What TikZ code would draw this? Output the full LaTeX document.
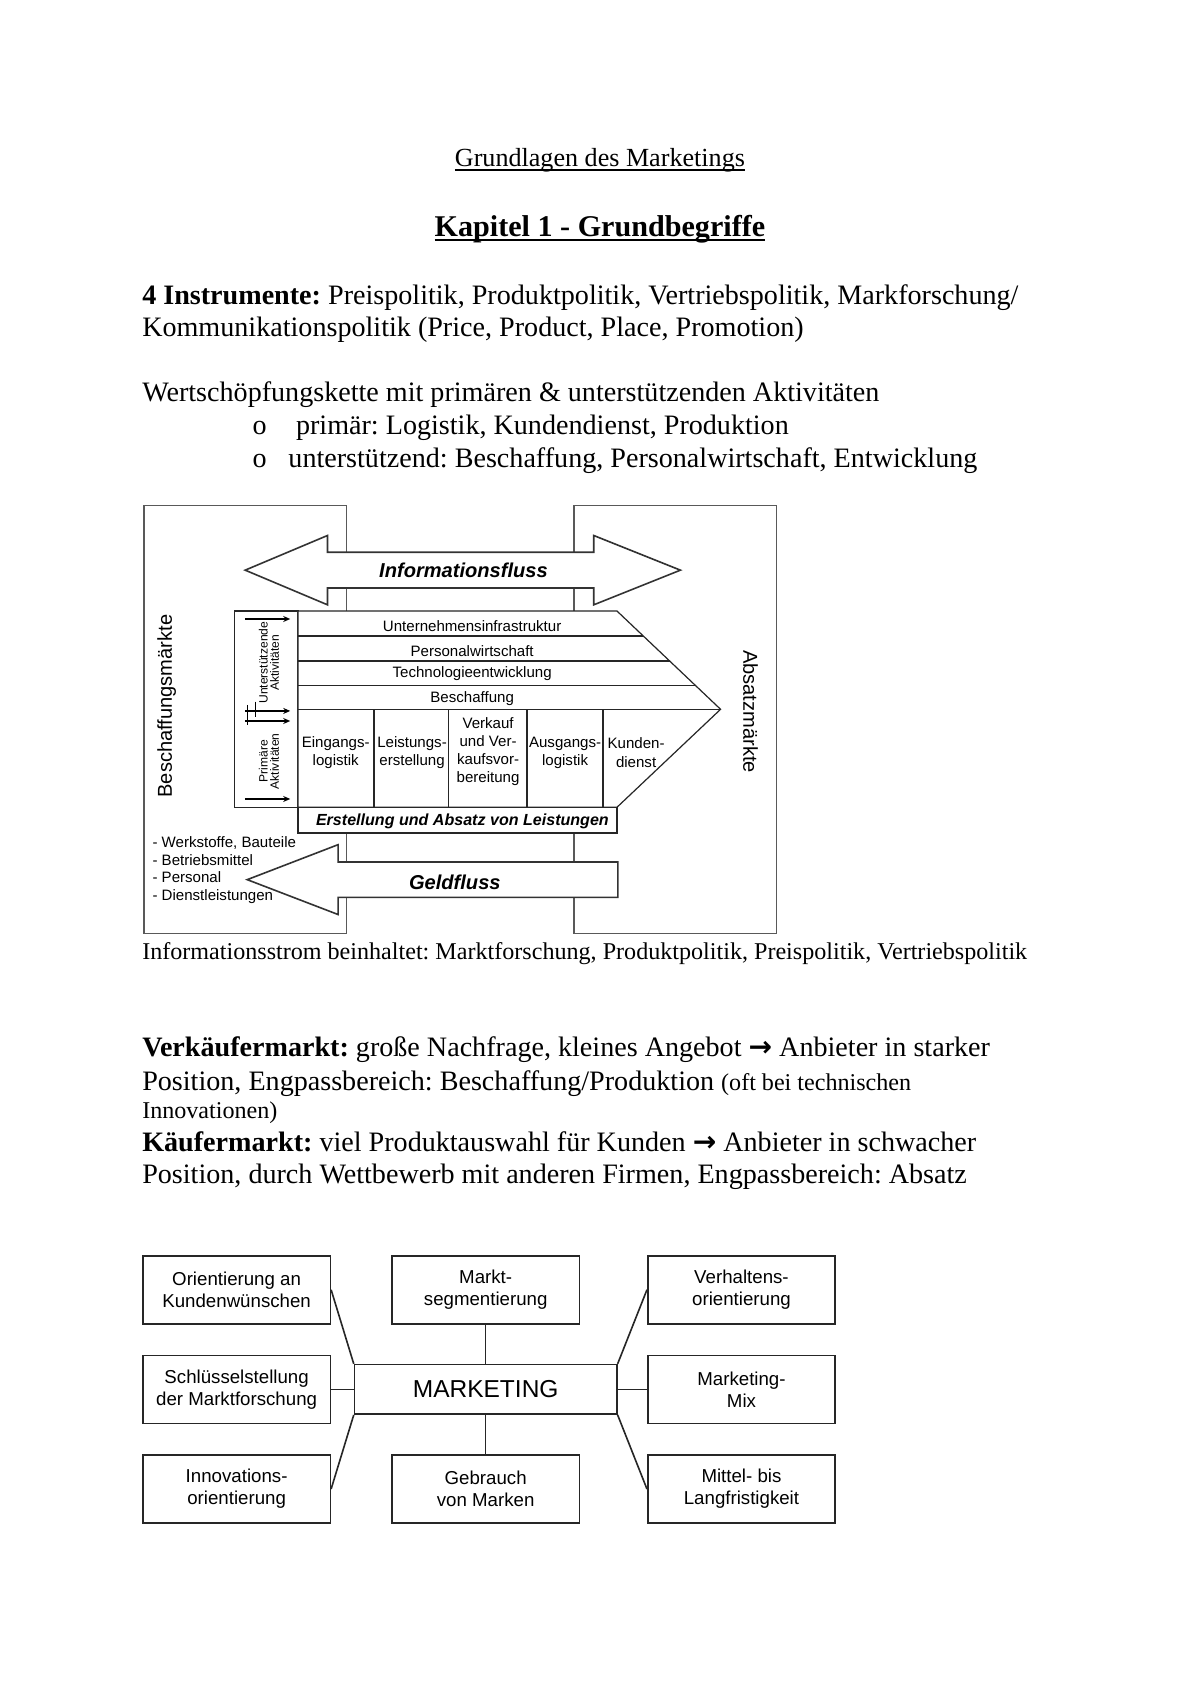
\documentclass[tikz,border=0pt]{standalone}
\usepackage{fontspec}
\setmainfont{Liberation Serif}
\setsansfont{Liberation Sans}
\newfontfamily\arrowfont{DejaVu Sans}
\usetikzlibrary{arrows.meta, positioning}
\newcommand{\ultext}[1]{\setbox0\hbox{#1}\rlap{\vrule height -0.09em depth 0.15em width \wd0}\box0}
\newcommand{\toarrow}{{\arrowfont\bfseries →}}
\frenchspacing

\begin{document}
\begin{tikzpicture}[x=0.018953cm, y=-0.018953cm,
    body/.style={anchor=base west, inner sep=0, font=\fontsize{14}{16}\selectfont},
    market/.style={draw=black!65, line width=0.7pt},
    chainpart/.style={draw=black!85, line width=0.6pt, fill=white},
    flow/.style={draw=black!80, line width=0.8pt, fill=white},
    flowtext/.style={inner sep=0, font=\sffamily\bfseries\itshape\fontsize{10}{12}\selectfont},
    celltext/.style={align=center, inner sep=0, font=\sffamily\fontsize{7.5}{9}\selectfont},
    sidetext/.style={align=center, inner sep=0, rotate=90, font=\sffamily\fontsize{6}{5.6}\selectfont},
    mkbox/.style={draw=black!85, line width=0.8pt, align=center, inner sep=0, minimum width=3.28cm, minimum height=1.19cm, font=\sffamily\fontsize{9.3}{11}\selectfont},
    link/.style={draw=black!85, line width=0.8pt}]
    \useasboundingbox[fill=white] (0,0) rectangle (1108,1568);

    \node[anchor=base, inner sep=0, font=\fontsize{13}{15}\selectfont] (title) at (554,154) {\ultext{Grundlagen des Marketings}};
    \node[anchor=base, inner sep=0, font=\bfseries\fontsize{15}{18}\selectfont] (chapter) at (554,218) {\ultext{Kapitel 1 - Grundbegriffe}};
    \node[body] (instr1) at (131,281) {\textbf{4 Instrumente:} Preispolitik, Produktpolitik, Vertriebspolitik, Markforschung/};
    \node[body] (instr2) at (131,311) {Kommunikationspolitik (Price, Product, Place, Promotion)};
    \node[body] (valuechain) at (131,371) {Wertschöpfungskette mit primären \& unterstützenden Aktivitäten};
    \node[body] (bullet1) at (233,401) {o};
    \node[body] (prim) at (273,401) {primär: Logistik, Kundendienst, Produktion};
    \node[body] (bullet2) at (233,432) {o};
    \node[body] (supp) at (266,432) {unterstützend: Beschaffung, Personalwirtschaft, Entwicklung};

    \draw[market] (133,467) rectangle (320,862);
    \draw[market] (530,467) rectangle (717,862);

    \draw[flow] (226.4,526.5) -- (302.4,494.5) -- (302.4,510) -- (548.3,510) -- (548.3,494.5) -- (628.3,526.5)
        -- (548.3,558.5) -- (548.3,543) -- (302.4,543) -- (302.4,558.5) -- cycle;
    \node[flowtext] (info) at (428,527) {Informationsfluss};

    \draw[chainpart] (216.6,564.3) rectangle (275.1,745.4);
    \draw[chainpart] (275.1,564.3) -- (569.8,564.3) -- (665.4,655) -- (569.8,745.4) -- (275.1,745.4) -- cycle;
    \draw[chainpart] (275.1,587.3) -- (594.0,587.3);
    \draw[chainpart] (275.1,610.3) -- (618.3,610.3);
    \draw[chainpart] (275.1,632.7) -- (641.9,632.7);
    \draw[chainpart] (275.1,655) -- (665.4,655);
    \foreach \x in {345.4,414.5,486.7,556.9}
        \draw[chainpart] (\x,655) -- (\x,745.4);
    \draw[chainpart] (275.1,745.4) rectangle (569.8,769.3);

    \node[celltext] (infra) at (436,578) {Unternehmensinfrastruktur};
    \node[celltext] (staff) at (436,601) {Personalwirtschaft};
    \node[celltext] (tech) at (436,622) {Technologieentwicklung};
    \node[celltext] (procurement) at (436,645.5) {Beschaffung};
    \node[celltext] (inbound) at (310,695) {Eingangs-\\logistik};
    \node[celltext] (operations) at (380.5,695) {Leistungs-\\erstellung};
    \node[celltext] (marketingsales) at (450.7,694) {Verkauf\\und Ver-\\kaufsvor-\\bereitung};
    \node[celltext] (outbound) at (521.8,695) {Ausgangs-\\logistik};
    \node[celltext] (service) at (587.4,695) {Kunden-\\dienst};
    \node[flowtext, font=\sffamily\bfseries\itshape\fontsize{8}{10}\selectfont] (output) at (427,758) {Erstellung und Absatz von Leistungen};

    \foreach \y in {571.6,656.5,665.8,737.8}
        \draw[-{Stealth[length=3.5pt,width=3pt]}, line width=0.8pt] (226.2,\y) -- (268,\y);
    \draw[line width=0.8pt] (228.7,651) -- (228.7,669.4);
    \draw[line width=0.8pt] (236.1,647.9) -- (236.1,661.7);
    \node[sidetext] (support) at (248.4,612) {Unterstützende\\Aktivitäten};
    \node[sidetext] (primary) at (248.4,703) {Primäre\\Aktivitäten};

    \node[rotate=90, inner sep=0, font=\sffamily\fontsize{10}{12}\selectfont] (procure) at (154,652) {Beschaffungsmärkte};
    \node[rotate=-90, inner sep=0, font=\sffamily\fontsize{10}{12}\selectfont] (sales) at (693,657) {Absatzmärkte};

    \draw[flow] (570.6,796) -- (312.2,796) -- (312.2,780) -- (228.3,812.3) -- (312.2,844.5) -- (312.2,828.6) -- (570.6,828.6) -- cycle;
    \node[flowtext] (money) at (420,815) {Geldfluss};
    \node[anchor=west, align=left, inner sep=0, font=\sffamily\fontsize{7.5}{8.9}\selectfont] (resources) at (140.5,803.5) {- Werkstoffe, Bauteile\\- Betriebsmittel\\- Personal\\- Dienstleistungen};

    \node[body, font=\fontsize{12}{14}\selectfont] (caption) at (131,886) {Informationsstrom beinhaltet: Marktforschung, Produktpolitik, Preispolitik, Vertriebspolitik};

    \node[body] (seller1) at (131,976) {\textbf{Verkäufermarkt:} große Nachfrage, kleines Angebot \toarrow{} Anbieter in starker};
    \node[body] (seller2) at (131,1007) {Position, Engpassbereich: Beschaffung/Produktion {\fontsize{12}{14}\selectfont (oft bei technischen}};
    \node[body, font=\fontsize{12}{14}\selectfont] (seller3) at (131,1033) {Innovationen)};
    \node[body] (buyer1) at (131,1063) {\textbf{Käufermarkt:} viel Produktauswahl für Kunden \toarrow{} Anbieter in schwacher};
    \node[body] (buyer2) at (131,1093) {Position, durch Wettbewerb mit anderen Firmen, Engpassbereich: Absatz};

    \node[mkbox] (orient) at (218.5,1191) {Orientierung an\\Kundenwünschen};
    \node[mkbox] (segment) at (448.5,1191) {Markt-\\segmentierung};
    \node[mkbox] (behave) at (684.7,1191) {Verhaltens-\\orientierung};
    \node[mkbox] (research) at (218.5,1283) {Schlüsselstellung\\der Marktforschung};
    \node[mkbox, minimum width=4.59cm, minimum height=0.866cm, font=\sffamily\fontsize{12.2}{14}\selectfont] (marketing) at (448.5,1283) {MARKETING};
    \node[mkbox] (mix) at (684.7,1283) {Marketing-\\Mix};
    \node[mkbox] (innov) at (218.5,1375) {Innovations-\\orientierung};
    \node[mkbox] (brands) at (448.5,1375) {Gebrauch\\von Marken};
    \node[mkbox] (term) at (684.7,1375) {Mittel- bis\\Langfristigkeit};

    \draw[link] (orient.east) -- (marketing.north west);
    \draw[link] (segment) -- (marketing);
    \draw[link] (behave.west) -- (marketing.north east);
    \draw[link] (research) -- (marketing);
    \draw[link] (mix) -- (marketing);
    \draw[link] (innov.east) -- (marketing.south west);
    \draw[link] (brands) -- (marketing);
    \draw[link] (term.west) -- (marketing.south east);
\end{tikzpicture}
\end{document}
